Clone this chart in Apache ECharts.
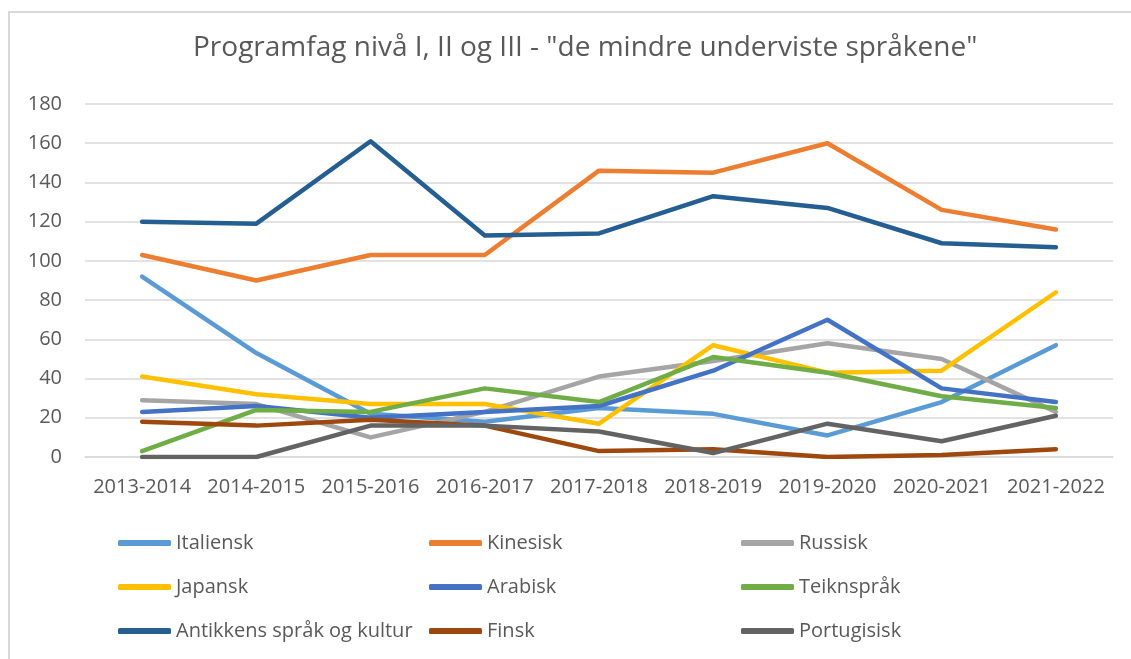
<!DOCTYPE html>
<html>
<head>
<meta charset="utf-8">
<script src="https://cdn.jsdelivr.net/npm/echarts@6/dist/echarts.min.js"></script>
<style>
  html, body { margin: 0; padding: 0; background: #fff; }
  #frame {
    position: absolute; left: 8px; top: 11px; width: 1140px; height: 660px;
    border-left: 2px solid #d9d9d9; border-top: 2px solid #d9d9d9;
  }
  #chart { position: absolute; left: 0; top: 0; width: 1131px; height: 659px; }
</style>
</head>
<body>
<div id="frame"></div>
<div id="chart"></div>
<script>
const years = ['2013-2014', '2014-2015', '2015-2016', '2016-2017', '2017-2018', '2018-2019', '2019-2020', '2020-2021', '2021-2022']

const italiensk   = [92, 53, 22, 18, 25, 22, 11, 28, 57]
const kinesisk    = [103, 90, 103, 103, 146, 145, 160, 126, 116]
const russisk     = [29, 27, 10, 23, 41, 49, 58, 50, 23]
const japansk     = [41, 32, 27, 27, 17, 57, 43, 44, 84]
const arabisk     = [23, 26, 20, 23, 26, 44, 70, 35, 28]
const teiknsprak  = [3, 24, 23, 35, 28, 51, 43, 31, 25]
const antikkens   = [120, 119, 161, 113, 114, 133, 127, 109, 107]
const finsk       = [18, 16, 19, 16, 3, 4, 0, 1, 4]
const portugisisk = [0, 0, 16, 16, 13, 2, 17, 8, 21]

const seriesDefs = [
  { name: 'Italiensk', data: italiensk, color: '#5B9BD5' },
  { name: 'Kinesisk', data: kinesisk, color: '#ED7D31' },
  { name: 'Russisk', data: russisk, color: '#A5A5A5' },
  { name: 'Japansk', data: japansk, color: '#FFC000' },
  { name: 'Arabisk', data: arabisk, color: '#4472C4' },
  { name: 'Teiknspråk', data: teiknsprak, color: '#70AD47' },
  { name: 'Antikkens språk og kultur', data: antikkens, color: '#255E91' },
  { name: 'Finsk', data: finsk, color: '#9E480E' },
  { name: 'Portugisisk', data: portugisisk, color: '#636363' }
]

const textColor = '#595959'
const font = '"Open Sans", sans-serif'

function legendColumn(names, left) {
  return {
    data: names,
    orient: 'vertical',
    left: left,
    top: 525,
    itemGap: 18,
    itemWidth: 53,
    itemHeight: 6,
    icon: 'roundRect',
    textStyle: { color: textColor, fontSize: 20, fontFamily: font, lineHeight: 26 },
    selectedMode: false
  }
}

const chart = echarts.init(document.getElementById('chart'))
chart.setOption({
  animation: false,
  backgroundColor: 'transparent',
  title: {
    text: 'Programfag nivå I, II og III - "de mindre underviste språkene"',
    left: 188,
    top: 29,
    textStyle: { color: textColor, fontSize: 28, fontWeight: 'normal', fontFamily: font }
  },
  legend: [
    legendColumn(['Italiensk', 'Japansk', 'Antikkens språk og kultur'], 113),
    legendColumn(['Kinesisk', 'Arabisk', 'Finsk'], 424),
    legendColumn(['Russisk', 'Teiknspråk', 'Portugisisk'], 736)
  ],
  grid: { left: 85, right: 18, top: 104, bottom: 202 },
  xAxis: {
    type: 'category',
    data: years,
    boundaryGap: true,
    axisLine: { lineStyle: { color: '#d9d9d9', width: 1.5 } },
    axisTick: { show: false },
    axisLabel: { color: textColor, fontSize: 20, fontFamily: font, margin: 20, interval: 0 }
  },
  yAxis: {
    type: 'value',
    min: 0,
    max: 180,
    interval: 20,
    axisLine: { show: false },
    axisTick: { show: false },
    axisLabel: { color: textColor, fontSize: 20, fontFamily: font, margin: 23 },
    splitLine: { lineStyle: { color: '#d9d9d9', width: 1.5 } }
  },
  series: seriesDefs.map(s => ({
    name: s.name,
    type: 'line',
    data: s.data,
    symbol: 'none',
    color: s.color,
    lineStyle: { width: 4.5, color: s.color, cap: 'round', join: 'round' }
  }))
})
</script>
</body>
</html>
